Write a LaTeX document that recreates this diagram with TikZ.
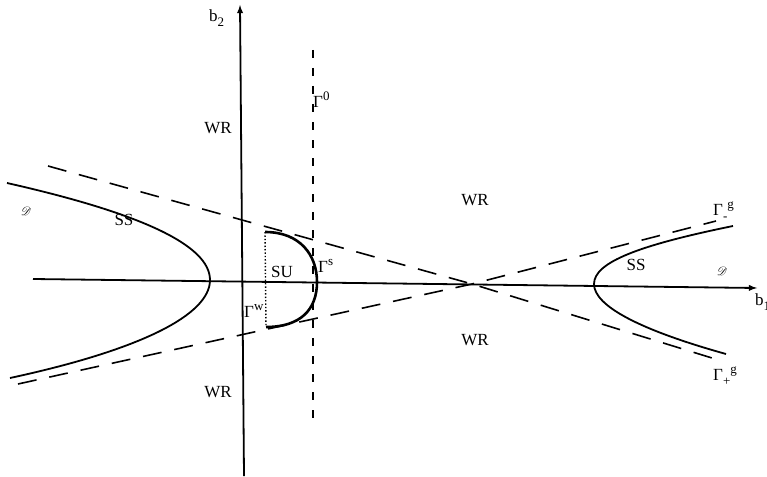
\documentclass[tikz,border=0pt]{standalone}
\usepackage{fontspec}
\setmainfont{Liberation Serif}
\usepackage{mathrsfs}
\usepackage{tikz}
\newcommand{\upidx}[1]{\raisebox{7pt}{\fontsize{13}{15}\selectfont #1}}
\newcommand{\dnidx}[1]{\raisebox{-5pt}{\fontsize{13}{15}\selectfont #1}}

\begin{document}
\begin{tikzpicture}[x=1pt,y=-1pt,
  lbl/.style={font=\fontsize{17}{20}\selectfont, inner sep=0pt},
  axis/.style={line width=1.8pt, -latex},
  curve/.style={line width=1.8pt},
  asym/.style={line width=1.6pt, dash pattern=on 19pt off 13pt},
  vline/.style={line width=1.4pt, dash pattern=on 8pt off 10pt}]
\useasboundingbox (0,0) rectangle (767,476);

% Axes
\coordinate (xl) at (33,279);
\coordinate (xr) at (757,288);
\coordinate (yb) at (244,476);
\coordinate (yt) at (240,5);
\draw[axis] (xl) -- (xr);
\draw[axis] (yb) -- (yt);

% Vertical dashed line Gamma^0
\coordinate (g0t) at (313,50);
\coordinate (g0b) at (313,418);
\draw[vline] (g0t) -- (g0b);

% Asymptotes (dashed)
\coordinate (cross) at (472,284);
\coordinate (a1l) at (48,166);
\coordinate (a1r) at (712,358);
\coordinate (a2l) at (18,384);
\coordinate (a2r) at (716,221);
\draw[asym] (a1l) -- (cross) -- (a1r);
\draw[asym] (a2l) -- (cross) -- (a2r);

% Hyperbola branches
\draw[curve] (7,183) .. controls (140,213) and (210,245) .. (210,280)
  .. controls (210,315) and (140,350) .. (10,378);
\draw[curve] (733,226) .. controls (640,245) and (594,262) .. (594,284)
  .. controls (594,306) and (640,330) .. (726,354);

% SU region
\coordinate (sut) at (265,232);
\coordinate (sub) at (266,327);
\draw[line width=2.6pt] (sut) .. controls (300,232) and (317,255) .. (317,282)
  .. controls (317,310) and (300,327) .. (sub);
\draw[line width=1.4pt, dotted] (sut) -- (sub);

% Labels
\node[lbl, anchor=west] (b2) at (209,18) {b\dnidx{2}};
\node[lbl, anchor=west] (b1) at (755,302) {b\dnidx{1}};
\node[lbl, anchor=west] (gam0) at (313,100) {Γ\upidx{0}};
\node[lbl] (wr1) at (218,128) {WR};
\node[lbl] (wr2) at (475,200) {WR};
\node[lbl] (wr3) at (475,340) {WR};
\node[lbl] (wr4) at (218,392) {WR};
\node[lbl] (ss1) at (124,220) {SS};
\node[lbl] (ss2) at (636,265) {SS};
\node[lbl] (su) at (282,272) {SU};
\node[lbl, anchor=west] (gams) at (318,266) {Γ\upidx{s}};
\node[lbl, anchor=west] (gamw) at (244,311) {Γ\upidx{w}};
\node[lbl, anchor=west] (gmin) at (713,211) {Γ\dnidx{-}\upidx{g}};
\node[lbl, anchor=west] (gplus) at (713,376) {Γ\dnidx{+}\upidx{g}};
\node[lbl, font=\fontsize{12}{14}\selectfont] (dl) at (26,211) {$\mathscr{D}$};
\node[lbl, font=\fontsize{12}{14}\selectfont] (dr) at (722,271) {$\mathscr{D}$};
\end{tikzpicture}
\end{document}
